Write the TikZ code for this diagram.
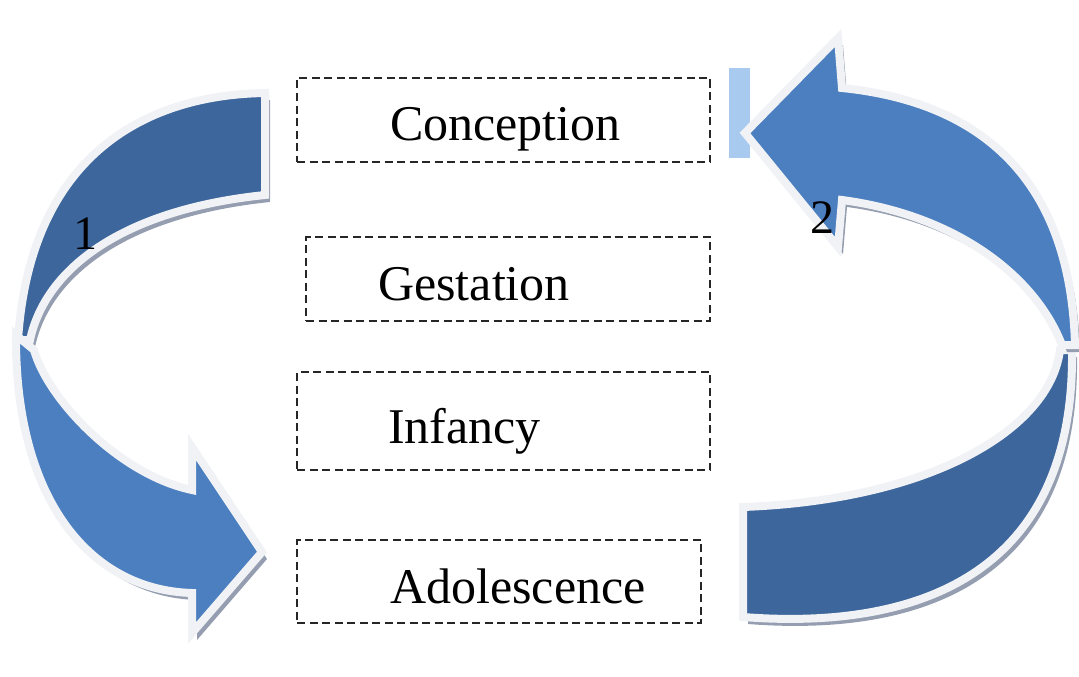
\documentclass[tikz,border=0pt]{standalone}
\usepackage{fontspec}
\setmainfont{Liberation Serif}
\definecolor{backBlue}{HTML}{3D669C}
\definecolor{frontBlue}{HTML}{4B7FC0}
\definecolor{rimWhite}{HTML}{F0F2F5}
\definecolor{shadeGray}{HTML}{959EB0}
\definecolor{paleBlue}{HTML}{A8CAEE}

\begin{document}
\begin{tikzpicture}[x=1pt, y=-1pt,
    rim_style/.style={draw=rimWhite, line width=8pt, line join=miter},
    back_part/.style={rim_style, fill=backBlue},
    front_part/.style={rim_style, fill=frontBlue},
    shadow_part/.style={fill=shadeGray, shift={(5,7)}},
    stage_box/.style={draw=black!85, dash pattern=on 8pt off 4.5pt, line width=2.2pt, inner sep=0},
    stage_text/.style={inner sep=0, anchor=base west, font=\fontsize{50}{60}\selectfont},
    num_text/.style={inner sep=0, font=\fontsize{48}{58}\selectfont}
]
    \useasboundingbox (0,0) rectangle (1079,677);

    % --- macros ---
    \newcommand{\ribbon}[2]{
        \fill[shadow_part] #2;
        \filldraw[#1] #2;
    }
    \newcommand{\stagebox}[4]{
        \node[stage_box, minimum width=#3pt, minimum height=#4pt] (#1) at (#2) {};
    }

    % --- small pale bar behind arrow 2 ---
    \fill[paleBlue] (729,68) rectangle (750,158);

    % --- back halves of the rings ---
    \ribbon{back_part}{(265,93) .. controls (140,95) and (30,160) .. (18,340) -- (30,340) .. controls (45,270) and (120,210) .. (265,195) -- cycle}
    \ribbon{back_part}{(743,507) -- (743,617) .. controls (910,630) and (1075,580) .. (1072,350) -- (1060,350) .. controls (1050,430) and (930,500) .. (743,507) -- cycle}

    % --- front halves with heads ---
    \ribbon{front_part}{(16,335) .. controls (15,500) and (90,590) .. (192,593) -- (192,633) -- (262,552) -- (192,447) -- (192,490) .. controls (120,475) and (48,400) .. (34,350) -- cycle}
    \ribbon{front_part}{(745,133) -- (838,38) -- (842,88) .. controls (960,100) and (1070,160) .. (1075,345) -- (1062,345) .. controls (1035,275) and (955,215) .. (842,200) -- (838,247) -- cycle}

    % --- stages ---
    \stagebox{conception}{503.5,120}{413}{84}
    \stagebox{gestation}{508,279}{404}{84}
    \stagebox{infancy}{503.5,421}{413}{98}
    \stagebox{adolescence}{499,581.5}{404}{83}

    \node[stage_text] (conception_txt) at (390,140) {Conception};
    \node[stage_text] (gestation_txt) at (378,300) {Gestation};
    \node[stage_text] (infancy_txt) at (388,443) {Infancy};
    \node[stage_text] (adolescence_txt) at (390,603) {Adolescence};

    % --- numbers ---
    \node[num_text] (num_one) at (85,234) {1};
    \node[num_text] (num_two) at (822,218) {2};

\end{tikzpicture}
\end{document}
